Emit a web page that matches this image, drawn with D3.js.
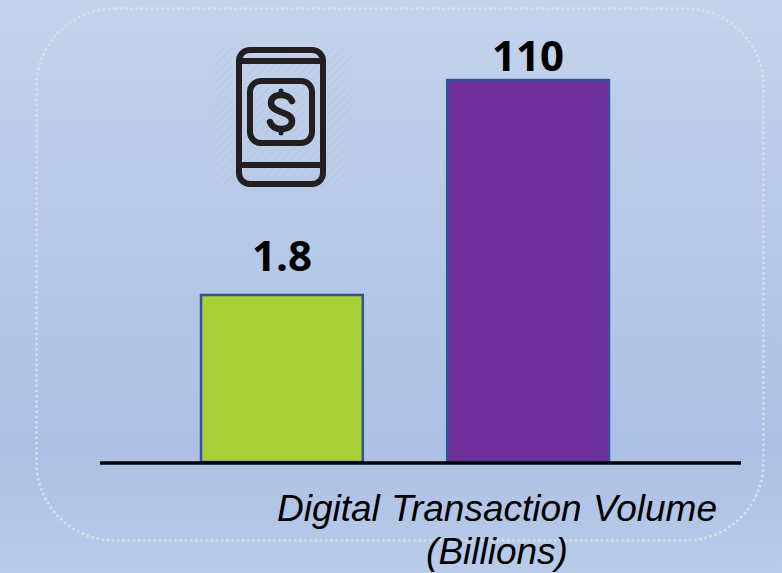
<!DOCTYPE html>
<html>
<head>
<meta charset="utf-8">
<script src="https://cdn.jsdelivr.net/npm/d3@7"></script>
<style>
html, body { margin: 0; padding: 0; overflow: hidden; }
svg { display: block; }
</style>
</head>
<body>
<script>
var categories = ["Earlier", "Later"];
var values = [1.8, 110];
var valueLabels = ["1.8", "110"];
var barColors = ["#a7cf38", "#70309c"];
var titleLines = ["Digital Transaction Volume", "(Billions)"];

var svgWidth = 782;
var svgHeight = 573;

var svg = d3.select("body")
	.append("svg")
	.attr("width", svgWidth)
	.attr("height", svgHeight);

var defs = svg.append("defs");

// slide background
var grad = defs.append("linearGradient")
	.attr("id", "bg")
	.attr("x1", 0).attr("y1", 0)
	.attr("x2", 0).attr("y2", 1);
grad.append("stop").attr("offset", "0%").attr("stop-color", "#c4d3ec");
grad.append("stop").attr("offset", "78%").attr("stop-color", "#acc0e4");
grad.append("stop").attr("offset", "100%").attr("stop-color", "#b9cbe9");

var hatch = defs.append("pattern")
	.attr("id", "hatch")
	.attr("width", 6)
	.attr("height", 6)
	.attr("patternUnits", "userSpaceOnUse")
	.attr("patternTransform", "rotate(45)");
hatch.append("line")
	.attr("x1", 0).attr("y1", 0)
	.attr("x2", 0).attr("y2", 6)
	.attr("stroke", "#8f9db8")
	.attr("stroke-opacity", 0.2)
	.attr("stroke-width", 1.5);

svg.append("rect")
	.attr("width", svgWidth)
	.attr("height", svgHeight)
	.attr("fill", "url(#bg)");

// dotted panel
svg.append("rect")
	.attr("x", 36.5)
	.attr("y", 8.5)
	.attr("width", 727)
	.attr("height", 532)
	.attr("rx", 78)
	.attr("ry", 78)
	.attr("fill", "none")
	.attr("stroke", "#dadee6")
	.attr("stroke-width", 2.5)
	.attr("stroke-dasharray", "2.5 2.7");

// scales
var x = d3.scaleBand()
	.domain(categories)
	.range([201, 609])
	.paddingInner(0.3428);

// the picture's bars are not proportional, a log scale fits both of them
var y = d3.scaleLog()
	.domain([0.0738, 110])
	.range([462, 80]);

// bars
svg.append("g")
	.selectAll("rect")
	.data(values)
	.enter()
	.append("rect")
	.attr("x", (d, i) => x(categories[i]))
	.attr("y", d => y(d))
	.attr("width", x.bandwidth())
	.attr("height", d => y(0.0738) - y(d))
	.attr("fill", (d, i) => barColors[i])
	.attr("stroke", "#2f5597")
	.attr("stroke-width", 2.5);

// value labels, the short bar's label floats higher in the picture
svg.append("g")
	.selectAll("text")
	.data(values)
	.enter()
	.append("text")
	.attr("x", (d, i) => x(categories[i]) + x.bandwidth() / 2)
	.attr("y", (d, i) => y(d) - (i === 0 ? 24 : 9))
	.attr("text-anchor", "middle")
	.style("font-family", "'Open Sans', Lato, sans-serif")
	.style("font-weight", "700")
	.style("font-size", "42px")
	.style("fill", "#000")
	.text((d, i) => valueLabels[i]);

// baseline
svg.append("line")
	.attr("x1", 100)
	.attr("x2", 741)
	.attr("y1", y(0.0738) + 1)
	.attr("y2", y(0.0738) + 1)
	.attr("stroke", "#000")
	.attr("stroke-width", 3.5);

// axis title
var title = svg.append("text")
	.style("font-family", "'Liberation Sans', Arial, sans-serif")
	.style("font-style", "italic")
	.style("font-size", "37px")
	.style("fill", "#000")
	.attr("text-anchor", "middle");
title.append("tspan")
	.attr("x", 497)
	.attr("y", 521)
	.style("word-spacing", "1px")
	.text(titleLines[0]);
title.append("tspan")
	.attr("x", 497)
	.attr("y", 564)
	.text(titleLines[1]);

// phone icon
var icon = svg.append("g").attr("class", "icon");
icon.append("rect")
	.attr("x", 212).attr("y", 48)
	.attr("width", 138).attr("height", 140)
	.attr("fill", "url(#hatch)");
var ink = "#231f20";
icon.append("rect")
	.attr("x", 239).attr("y", 50)
	.attr("width", 84).attr("height", 134)
	.attr("rx", 11)
	.attr("fill", "none")
	.attr("stroke", ink)
	.attr("stroke-width", 6);
icon.append("line")
	.attr("x1", 239).attr("x2", 323)
	.attr("y1", 61).attr("y2", 61)
	.attr("stroke", ink)
	.attr("stroke-width", 6);
icon.append("line")
	.attr("x1", 239).attr("x2", 323)
	.attr("y1", 165).attr("y2", 165)
	.attr("stroke", ink)
	.attr("stroke-width", 6);
icon.append("rect")
	.attr("x", 250).attr("y", 81)
	.attr("width", 62).attr("height", 62)
	.attr("rx", 11)
	.attr("fill", "none")
	.attr("stroke", ink)
	.attr("stroke-width", 6);
icon.append("path")
	.attr("d", "M292 101 C290 97 286 95 281 95 C275 95 271 98 271 103 C271 108 276 110 281 112 C287 114 292 116 292 121 C292 126 288 129 281 129 C276 129 272 127 270 122")
	.attr("fill", "none")
	.attr("stroke", ink)
	.attr("stroke-width", 6.5)
	.attr("stroke-linecap", "round");
icon.append("line")
	.attr("x1", 281).attr("x2", 281)
	.attr("y1", 91).attr("y2", 133)
	.attr("stroke", ink)
	.attr("stroke-width", 5)
	.attr("stroke-linecap", "round")
	.attr("stroke-dasharray", "2 38");
</script>
</body>
</html>
